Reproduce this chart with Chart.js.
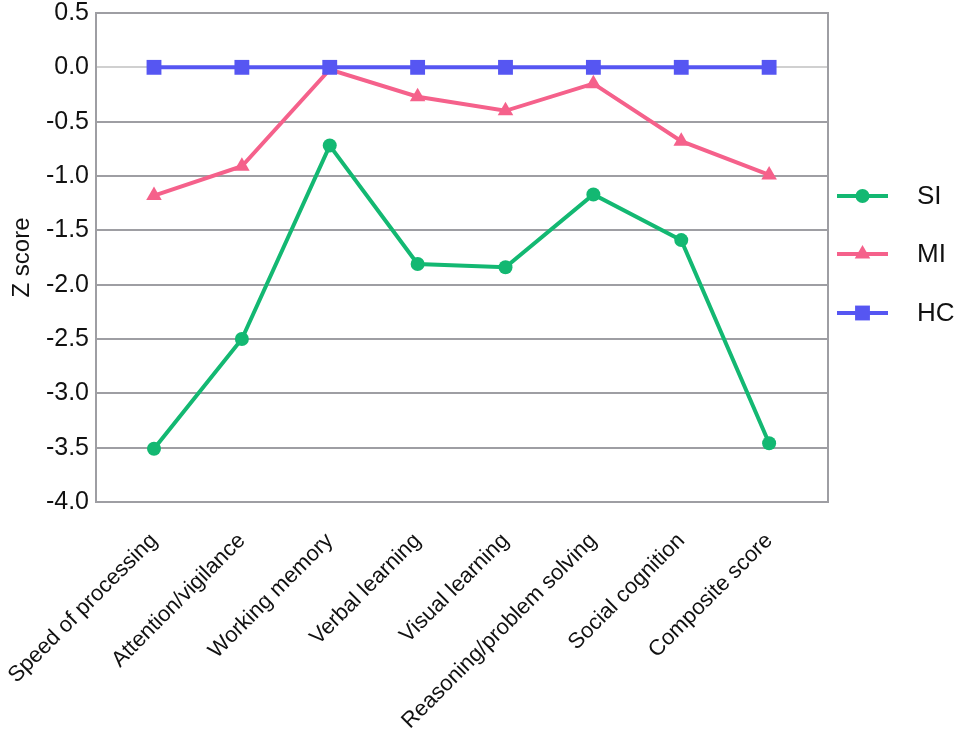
<!DOCTYPE html>
<html>
<head>
<meta charset="utf-8">
<script src="https://cdn.jsdelivr.net/npm/chart.js@4"></script>
<style>
  html, body { margin: 0; padding: 0; background: #fff; }
  #wrap { width: 957px; height: 730px; }
</style>
</head>
<body>
<div id="wrap"><canvas id="grafico" width="957" height="730"></canvas></div>
<script>
const dominios = [
  "Speed of processing",
  "Attention/vigilance",
  "Working memory",
  "Verbal learning",
  "Visual learning",
  "Reasoning/problem solving",
  "Social cognition",
  "Composite score"
];
const valoresSI = [-3.51, -2.50, -0.72, -1.81, -1.84, -1.17, -1.59, -3.46];
const valoresMI = [-1.18, -0.91, -0.02, -0.27, -0.40, -0.15, -0.68, -0.99];
const valoresHC = [0, 0, 0, 0, 0, 0, 0, 0];
const nombresSeries = ["SI", "MI", "HC"];

const verde = "#13b872";
const rosa = "#f5618b";
const azul = "#5656f2";
const gris = "#9e9ea3";
const fuente = "'Liberation Sans', Arial, sans-serif";

function puntos(valores) {
  return valores.map((v, i) => ({ x: i, y: v }));
}

// marco gris alrededor del area del grafico
const marco = {
  id: "marco",
  beforeDatasetsDraw(chart) {
    const a = chart.chartArea;
    const ctx = chart.ctx;
    ctx.save();
    ctx.strokeStyle = gris;
    ctx.lineWidth = 2;
    ctx.strokeRect(a.left, a.top, a.right - a.left, a.bottom - a.top);
    ctx.restore();
  }
};

// leyenda con linea + marcador
const leyenda = {
  id: "leyenda",
  afterDraw(chart) {
    const ctx = chart.ctx;
    const x0 = 837, x1 = 888, xt = 917;
    const ys = [196, 254, 313];
    ctx.save();
    chart.data.datasets.forEach((ds, i) => {
      const y = ys[i];
      ctx.strokeStyle = ds.borderColor;
      ctx.lineWidth = 4;
      ctx.beginPath();
      ctx.moveTo(x0, y);
      ctx.lineTo(x1, y);
      ctx.stroke();
      ctx.fillStyle = ds.borderColor;
      Chart.helpers.drawPoint(ctx, {
        pointStyle: ds.pointStyle,
        radius: ds.pointRadius,
        borderWidth: 0
      }, (x0 + x1) / 2, y);
      ctx.fillStyle = "#111";
      ctx.font = "26px " + fuente;
      ctx.textBaseline = "middle";
      ctx.textAlign = "left";
      ctx.fillText(ds.label, xt, y + 1);
    });
    ctx.restore();
  }
};

const ctx = document.getElementById("grafico").getContext("2d");
const grafico = new Chart(ctx, {
  type: "line",
  data: {
    datasets: [
      {
        label: nombresSeries[0],
        data: puntos(valoresSI),
        borderColor: verde,
        backgroundColor: verde,
        borderWidth: 4,
        pointStyle: "circle",
        pointRadius: 7,
        pointBorderWidth: 0,
        order: 3
      },
      {
        label: nombresSeries[1],
        data: puntos(valoresMI),
        borderColor: rosa,
        backgroundColor: rosa,
        borderWidth: 4,
        pointStyle: "triangle",
        pointRadius: 9,
        pointBorderWidth: 0,
        order: 2
      },
      {
        label: nombresSeries[2],
        data: puntos(valoresHC),
        borderColor: azul,
        backgroundColor: azul,
        borderWidth: 4,
        pointStyle: "rect",
        pointRadius: 10.5,
        pointBorderWidth: 0,
        order: 1
      }
    ]
  },
  options: {
    responsive: false,
    animation: false,
    layout: {
      padding: { top: 13, right: 129, left: 0, bottom: 0 }
    },
    scales: {
      x: {
        type: "linear",
        min: -0.66,
        max: 7.67,
        afterBuildTicks(s) {
          s.ticks = dominios.map((_, i) => ({ value: i }));
        },
        afterFit(s) {
          s.height = 228;
          s.paddingLeft = 0;
          s.paddingRight = 0;
        },
        grid: { display: false },
        border: { display: false },
        ticks: {
          minRotation: 45,
          maxRotation: 45,
          color: "#111",
          font: { family: fuente, size: 22 },
          padding: 18,
          callback: (v) => dominios[v]
        }
      },
      y: {
        min: -4,
        max: 0.5,
        afterFit(s) {
          s.width = 96;
          s.paddingTop = 0;
          s.paddingBottom = 0;
        },
        grid: {
          color: (c) => (c.tick && c.tick.value === 0 ? "#d0d0d0" : gris),
          lineWidth: 2,
          drawTicks: false
        },
        border: { display: false },
        ticks: {
          stepSize: 0.5,
          color: "#111",
          padding: 7,
          font: { family: fuente, size: 25, lineHeight: 1 },
          callback: (v) => v.toFixed(1)
        },
        title: {
          display: true,
          text: "Z score",
          color: "#111",
          font: { family: fuente, size: 24 },
          padding: { top: 8, bottom: 0 }
        }
      }
    },
    plugins: {
      legend: { display: false },
      tooltip: { enabled: false }
    }
  },
  plugins: [marco, leyenda]
});
</script>
</body>
</html>
